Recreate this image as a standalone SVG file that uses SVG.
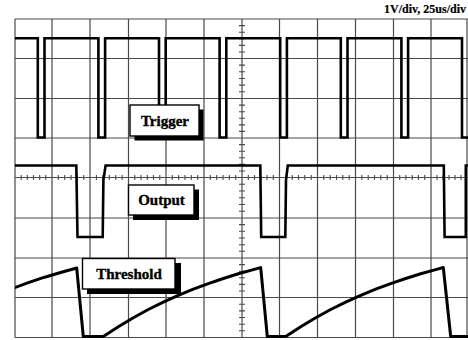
<svg xmlns="http://www.w3.org/2000/svg" width="468" height="340" viewBox="0 0 468 340">
<style>
.grid{stroke:#4a4a4a;stroke-width:1.2;fill:none}
.tick{stroke:#4a4a4a;stroke-width:1.1;fill:none}
.wave{stroke:#000;stroke-width:2.6;fill:none;stroke-linejoin:miter}
.ramp{stroke:#000;stroke-width:3;fill:none;stroke-linejoin:round}
.box{fill:#fff;stroke:#000;stroke-width:1.4}
.shadow{fill:#000}
.lbl{font-family:"Liberation Serif","Times New Roman",serif;font-weight:bold;font-size:15px;fill:#000;stroke:#000;stroke-width:0.35;text-anchor:middle}
.title{font-family:"Liberation Serif","Times New Roman",serif;font-weight:bold;font-size:12px;fill:#000;stroke:#000;stroke-width:0.2;text-anchor:end}
</style>
<defs>
<clipPath id="scr"><rect x="15" y="19" width="453" height="319"/></clipPath>
</defs>
<rect width="468" height="340" fill="#fff"/>
<text class="title" x="466" y="12.5">1V/div, 25us/div</text>
<g id="graticule">
<path class="grid" d="M15,19V337.5M52,19V337.5M90,19V337.5M128.5,19V337.5M166,19V337.5M204,19V337.5M242,19V337.5M279.5,19V337.5M317.5,19V337.5M355.5,19V337.5M393.5,19V337.5M431,19V337.5M467,19V337.5"/>
<path class="grid" d="M15,19H468M15,58.5H468M15,98.5H468M15,138H468M15,177.5H468M15,218H468M15,258H468M15,297.5H468M15,337.5H468"/>
<path class="tick" d="M239,25.6h6M239,32.2h6M239,38.8h6M239,45.4h6M239,52h6M239,65.1h6M239,71.8h6M239,78.5h6M239,85.1h6M239,91.8h6M239,105.1h6M239,111.7h6M239,118.3h6M239,124.9h6M239,131.4h6M239,144.6h6M239,151.2h6M239,157.8h6M239,164.4h6M239,171h6M239,184.2h6M239,191h6M239,197.8h6M239,204.5h6M239,211.2h6M239,224.6h6M239,231.3h6M239,238h6M239,244.7h6M239,251.3h6M239,264.6h6M239,271.2h6M239,277.8h6M239,284.4h6M239,291h6M239,304.2h6M239,310.9h6M239,317.5h6M239,324.2h6M239,330.8h6"/>
<path class="tick" d="M21.2,175v5M27.3,175v5M33.5,175v5M39.7,175v5M45.8,175v5M58.3,175v5M64.7,175v5M71,175v5M77.3,175v5M83.7,175v5M96.4,175v5M102.8,175v5M109.3,175v5M115.7,175v5M122.1,175v5M134.8,175v5M141,175v5M147.3,175v5M153.5,175v5M159.8,175v5M172.3,175v5M178.7,175v5M185,175v5M191.3,175v5M197.7,175v5M210.3,175v5M216.7,175v5M223,175v5M229.3,175v5M235.7,175v5M248.3,175v5M254.5,175v5M260.8,175v5M267,175v5M273.3,175v5M285.8,175v5M292.2,175v5M298.5,175v5M304.8,175v5M311.2,175v5M323.8,175v5M330.2,175v5M336.5,175v5M342.8,175v5M349.2,175v5M361.8,175v5M368.2,175v5M374.5,175v5M380.8,175v5M387.2,175v5M399.7,175v5M405.9,175v5M412.2,175v5M418.4,175v5M424.7,175v5M437,175v5M443,175v5M449,175v5M455,175v5M461,175v5"/>
</g>
<g id="waveforms" clip-path="url(#scr)">
<path id="trigger-wave" class="wave" d="M15,38.3H37.8V137.5H44.5V38.3H98.4V137.5H105.1V38.3H159V137.5H165.7V38.3H219.6V137.5H226.3V38.3H280.2V137.5H286.9V38.3H340.8V137.5H347.5V38.3H401.4V137.5H408.1V38.3H462V137.5H468.7"/>
<path id="output-wave" class="wave" d="M15,165.5H76.3L77.5,237H102.7L103.4,180L105.6,165.5H260.3L261.2,237H285.3L286,180L287.8,165.5H443.8L444.6,237H465.8V165.5H468"/>
<polyline id="threshold-wave" class="ramp" points="14.7,287.7 29.7,282.2 44.7,277.2 59.7,272.7 76.7,268 83.3,336.5 103.3,336.5 118.3,326.7 133.3,317.7 148.3,309.5 163.3,302.1 178.3,295.4 193.3,289.2 208.3,283.6 223.3,278.5 238.3,273.8 253.3,269.6 260.7,267.6 267.3,336.5 285.7,336.5 300.7,326.7 315.7,317.7 330.7,309.5 345.7,302.1 360.7,295.4 375.7,289.2 390.7,283.6 405.7,278.5 420.7,273.8 435.7,269.6 443.3,267.5 450.7,336.5 468,336.5"/>
</g>
<g id="label-trigger">
<rect class="shadow" x="134.5" y="109.5" width="69" height="31"/>
<rect class="box" x="130" y="105" width="69" height="31"/>
<text class="lbl" x="165" y="125.7">Trigger</text>
</g>
<g id="label-output">
<rect class="shadow" x="133" y="189.5" width="66" height="30.5"/>
<rect class="box" x="128.5" y="185" width="65.5" height="30"/>
<text class="lbl" x="161.5" y="204.5">Output</text>
</g>
<g id="label-threshold">
<rect class="shadow" x="87" y="263" width="94" height="31"/>
<rect class="box" x="82.5" y="258.5" width="92.5" height="30.5"/>
<text class="lbl" x="129" y="279.3">Threshold</text>
</g>
<g id="connectors"></g>
</svg>
